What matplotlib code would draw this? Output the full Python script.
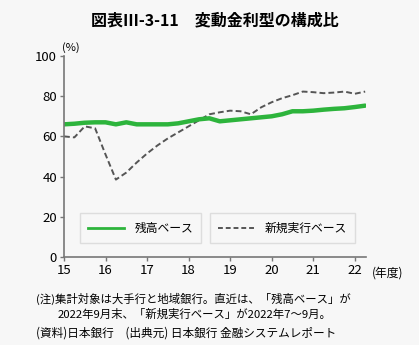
"""
変動金利型の構成比（残高ベース／新規実行ベース）— quarterly line chart.
"""

import matplotlib
matplotlib.use('Agg')
import matplotlib.pyplot as plt
from matplotlib.lines import Line2D

plt.rcParams['font.family'] = ['Noto Sans CJK JP', 'DejaVu Sans']

# fiscal-year quarters, FY2015 Q1 .. FY2022 Q2
quarters = [15 + q * 0.25 for q in range(30)]

balance_base = [66, 66.3, 66.8, 67, 67, 66, 67, 66, 66, 66,
                66, 66.5, 67.5, 68.5, 69, 67.5, 68, 68.5, 69, 69.5,
                70, 71, 72.5, 72.5, 72.8, 73.3, 73.7, 74, 74.6, 75.3]

new_loan_base = [60, 59.5, 65, 64, 51, 38.5, 42, 47, 51.5, 55.5,
                 59, 62, 65, 68, 71, 72, 72.8, 72.5, 71, 74.5,
                 77, 79, 80.5, 82.3, 82, 81.5, 81.8, 82.3, 81.2, 82.3]

year_ticks = [15, 16, 17, 18, 19, 20, 21, 22]
pct_ticks = [0, 20, 40, 60, 80, 100]

bg = '#f7f7f7'
green = '#2db43c'
dash_gray = '#555555'
axis_gray = '#777777'

fig = plt.figure(figsize=(4.19, 3.45), dpi=100, facecolor=bg)
ax = fig.add_axes([0.1527, 0.2551, 0.7208, 0.5826], facecolor=bg)

ax.plot(quarters, new_loan_base, color=dash_gray, lw=1.4, ls=(0, (3, 1.6)))
ax.plot(quarters, balance_base, color=green, lw=3.2, solid_capstyle='round')

ax.set_xlim(15, 22.27)
ax.set_ylim(0, 100)
ax.set_xticks(year_ticks)
ax.set_yticks(pct_ticks)
ax.tick_params(axis='both', direction='out', length=3, width=1,
               color=axis_gray, labelsize=9.5, pad=2)
for side in ('top', 'right'):
    ax.spines[side].set_visible(False)
for side in ('left', 'bottom'):
    ax.spines[side].set_color(axis_gray)
    ax.spines[side].set_linewidth(1.2)

ax.text(-0.005, 1.015, '(%)', transform=ax.transAxes, fontsize=8, ha='left', va='bottom')
ax.text(1.02, -0.045, '(年度)', transform=ax.transAxes, fontsize=8.5, ha='left', va='top')

# two separate legend boxes
h1 = Line2D([], [], color=green, lw=2)
h2 = Line2D([], [], color=dash_gray, lw=1.4, ls=(0, (2.5, 1.5)))
leg_kw = dict(frameon=True, fancybox=False, fontsize=8.5, handlelength=3.0,
              borderpad=0.7, borderaxespad=0, handletextpad=0.9,
              facecolor=bg, edgecolor='#dddddd', framealpha=1, loc='lower left')
leg1 = ax.legend([h1], ['残高ベース'], bbox_to_anchor=(0.053, 0.07), **leg_kw)
leg1.get_frame().set_linewidth(1)
ax.add_artist(leg1)
leg2 = ax.legend([h2], ['新規実行ベース'], bbox_to_anchor=(0.483, 0.07), **leg_kw)
leg2.get_frame().set_linewidth(1)

fig.text(0.513, 0.94, '図表Ⅲ-3-11　変動金利型の構成比', fontsize=11.5,
         fontweight='bold', ha='center', va='center')

fig.text(0.085, 0.135, '(注)集計対象は大手行と地域銀行。直近は、「残高ベース」が',
         fontsize=8.2, ha='left', va='center')
fig.text(0.137, 0.088, '2022年9月末、「新規実行ベース」が2022年7～9月。',
         fontsize=8.2, ha='left', va='center')
fig.text(0.085, 0.035, '(資料)日本銀行　(出典元) 日本銀行 金融システムレポート',
         fontsize=8.4, ha='left', va='center')

fig.savefig('out.png', dpi=100, facecolor=bg)
